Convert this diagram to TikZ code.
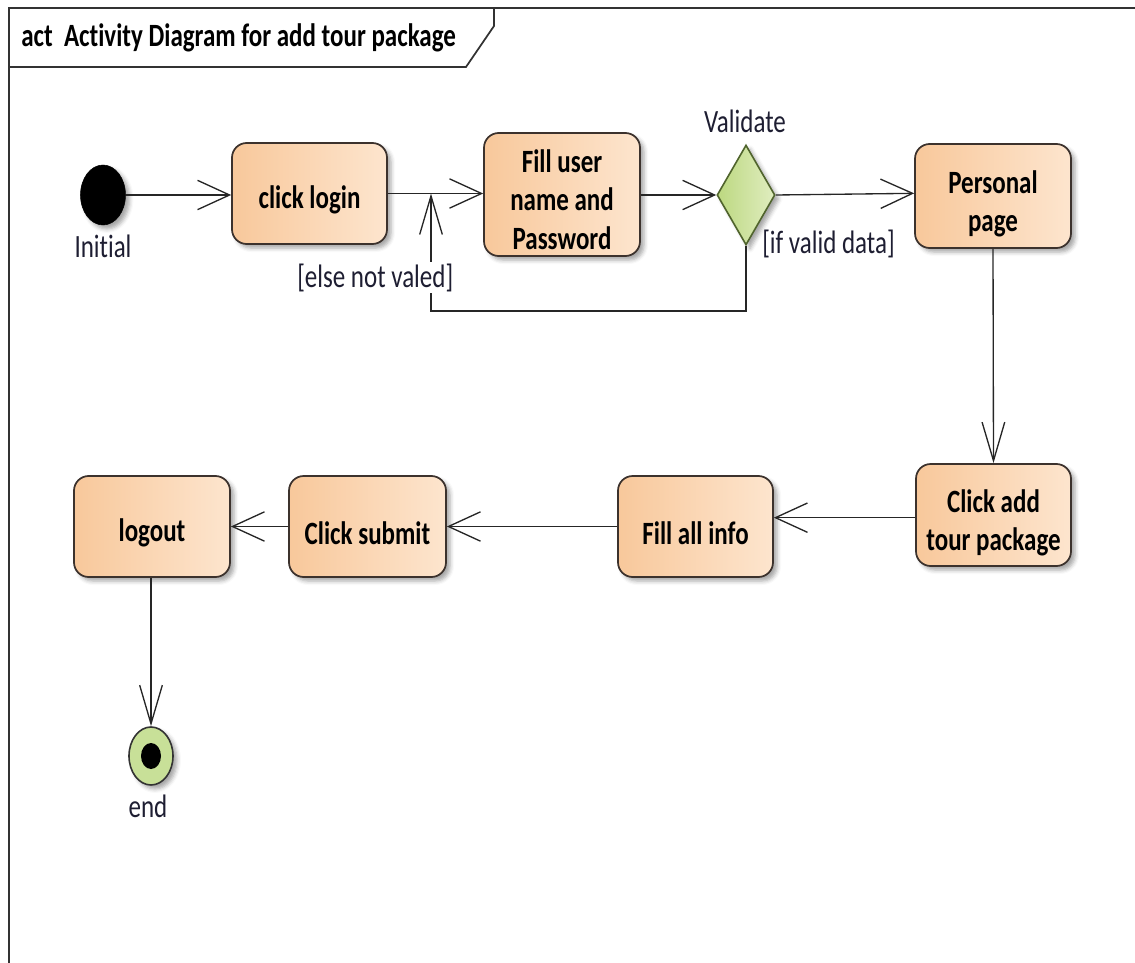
\documentclass[tikz,border=0pt]{standalone}
\usepackage{fontspec}
\setmainfont{Carlito}[Ligatures=NoCommon]
\usepackage{graphicx}
\usetikzlibrary{arrows.meta,shapes.geometric,shadows.blur}
\definecolor{boxL}{RGB}{248,200,155}
\definecolor{boxR}{RGB}{253,229,206}
\definecolor{boxD}{RGB}{60,50,45}
\definecolor{grL}{RGB}{188,216,128}
\definecolor{grR}{RGB}{224,237,192}
\definecolor{grD}{RGB}{80,100,45}
\definecolor{endG}{RGB}{200,224,152}
\definecolor{lbl}{RGB}{30,30,50}
\definecolor{frm}{RGB}{50,50,50}
\newcommand{\vst}[1]{\scalebox{1}[1.3]{#1}}
\newcommand{\vbx}[1]{\raisebox{-5pt}[\height][\depth]{\scalebox{1}[1.3]{#1}}}
\newcommand{\vml}[1]{\raisebox{-6.5pt}[\height][\depth]{\scalebox{1}[1.3]{\begin{tabular}{@{}c@{}}#1\end{tabular}}}}
\begin{document}
\begin{tikzpicture}[x=0.75pt,y=-0.75pt,
  font=\fontsize{18.75pt}{22.3pt}\selectfont,
  shad/.style={blur shadow={shadow xshift=3pt, shadow yshift=-3pt, shadow blur radius=3pt, shadow opacity=35}},
  act/.style={draw=boxD, line width=1.3pt, rounded corners=11pt, left color=boxL, right color=boxR,
    inner sep=0pt, font=\fontsize{18.75pt}{22.3pt}\selectfont\bfseries, text=black, shad},
  lab/.style={text=lbl, inner sep=0pt},
  flow/.style={line width=1pt, draw=black!85, -{Straight Barb[length=24pt,width=22pt]}},
  vflow/.style={line width=1pt, draw=black!85, -{Straight Barb[length=29pt,width=17pt]}},
  frameline/.style={draw=frm, line width=1.3pt}
]
\useasboundingbox (0,0) rectangle (1135,963);
% frame
\draw[frameline] (9,963) -- (9,8) -- (1135,8);
\draw[frameline] (9,67) -- (466,67) -- (494,26) -- (494,8);
\node[anchor=base west, inner sep=0pt, font=\fontsize{18.75pt}{22.3pt}\selectfont\bfseries] (title) at (21,47)
  {\vst{act\ \ Activity Diagram for add tour package}};
% initial
\node[ellipse, fill=black, draw=black, minimum width=33.75pt, minimum height=45pt, inner sep=0pt, shad] (init) at (103,195) {};
\node[lab, anchor=base] (initl) at (103,257) {\vst{Initial}};
% actions
\node[act, minimum width=116.25pt, minimum height=75.75pt] (click) at (309.5,193.5) {\vbx{click login}};
\node[act, minimum width=117pt, minimum height=92.25pt] (fill) at (562,194.5) {\vml{Fill user\\name and\\Password}};
\node[diamond, draw=grD, line width=1.2pt, left color=grL, right color=grR, minimum width=43.5pt, minimum height=75pt, inner sep=0pt, shad] (dia) at (746,195) {};
\node[lab, anchor=base] (dial) at (745,133) {\vst{Validate}};
\node[act, minimum width=117pt, minimum height=78pt] (personal) at (993,196) {\vml{Personal\\page}};
\node[act, minimum width=116.25pt, minimum height=76.5pt] (clickadd) at (993.5,515) {\vml{Click add\\tour package}};
\node[act, minimum width=116.25pt, minimum height=75.75pt] (fillall) at (695.5,526.5) {\vbx{Fill all info}};
\node[act, minimum width=117.75pt, minimum height=75.75pt] (submit) at (367.5,526.5) {\vbx{Click submit}};
\node[act, minimum width=117pt, minimum height=75.75pt] (logout) at (152,526.5) {\vbx{logout}};
% end
\node[ellipse, draw=black!80, line width=1.2pt, fill=endG, minimum width=33pt, minimum height=43.5pt, inner sep=0pt, shad] (endo) at (151,756) {};
\node[ellipse, fill=black, minimum width=15pt, minimum height=19.5pt, inner sep=0pt] (endi) at (endo.center) {};
\node[lab, anchor=base] (endl) at (148,817) {\vst{end}};
% connectors
\draw[flow] (init.east) -- (init.east -| click.west);
\draw[flow] (click.east) -- (click.east -| fill.west);
\draw[flow] (dia.west -| fill.east) -- (dia.west);
\draw[flow] (dia.east) -- ([yshift=2pt]personal.west);
\draw[vflow] (personal.south) -- (clickadd.north);
\draw[flow] ([yshift=-2pt]clickadd.west) -- ([yshift=-2pt]clickadd.west -| fillall.east);
\draw[flow] (fillall.west) -- (submit.east);
\draw[flow] (submit.west) -- (logout.east);
\draw[vflow] (logout.south -| endo.north) -- (endo.north);
\coordinate (lpb) at (431,311);
\coordinate (lp) at (lpb |- click.east);
\draw[vflow] (dia.south) |- (lpb) -- (lp);
\node[lab, anchor=base west, fill=white, inner sep=1.5pt] (elsel) at (295,287) {\vst{[else not valed]}};
\node[lab, anchor=base west] (ifl) at (762,253) {\vst{[if valid data]}};
\end{tikzpicture}
\end{document}
